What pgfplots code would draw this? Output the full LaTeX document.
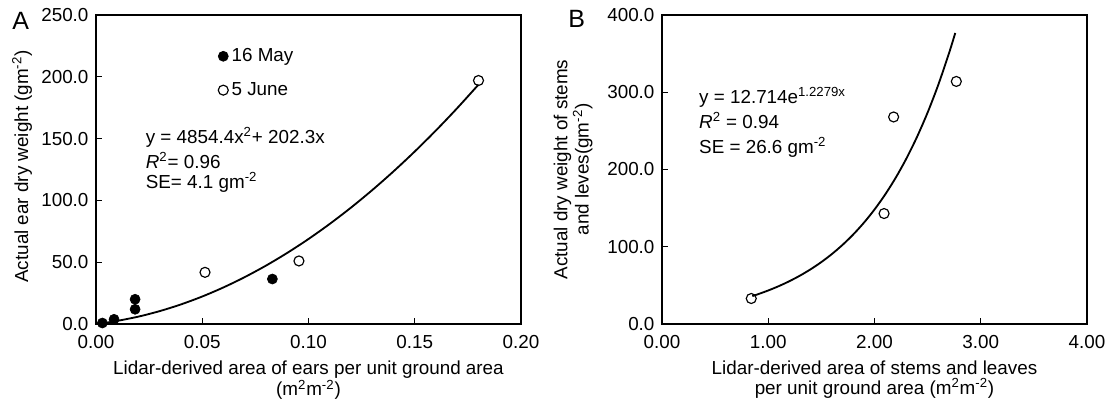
\documentclass[border=0pt]{standalone}
\usepackage{fontspec}
\setmainfont{Liberation Sans}
\usepackage{pgfplots}
\pgfplotsset{compat=1.18}
\begin{document}
\begin{tikzpicture}[font=\fontsize{11.3}{13.3}\selectfont]
\useasboundingbox (0,0) rectangle (666pt,240.6pt);
\pgfplotsset{
  myaxis/.style={
    scale only axis,
    width=255pt, height=185.4pt,
    axis line style={line width=1pt},
    tick align=inside,
    tick pos=left,
    major tick length=3.5pt,
    every tick/.style={line width=0.8pt, black},
    /pgf/number format/assume math mode=true,
    xticklabel style={yshift=-3pt},
    yticklabel style={xshift=-1pt},
    clip=false,
    every axis plot/.append style={line width=1.1pt},
  },
  filled/.style={only marks, mark=*, mark size=3pt, mark options={fill=black, draw=black, line width=0.4pt}},
  open/.style={only marks, mark=o, mark size=3pt, mark options={draw=black, fill=white, line width=0.7pt}},
}
% ---------------- Panel A ----------------
\begin{axis}[myaxis,
  at={(57.6pt,46.2pt)}, anchor=south west,
  xmin=0, xmax=0.2, ymin=0, ymax=250,
  xtick={0,0.05,0.10,0.15,0.20},
  ytick={0,50,100,150,200,250},
  xticklabel style={/pgf/number format/.cd, fixed, fixed zerofill, precision=2},
  yticklabel style={/pgf/number format/.cd, fixed, fixed zerofill, precision=1},
  xlabel={Lidar-derived area of ears per unit ground area\\(m\textsuperscript{2}m\textsuperscript{-2})},
  xlabel style={align=center, anchor=north, at={(axis description cs:0.5,-0.100)}, font=\fontsize{11.3}{11.8}\selectfont},
  ylabel={Actual ear dry weight (gm\textsuperscript{-2})},
  ylabel style={anchor=center, at={(axis description cs:-0.174,0.51)}},
  legend style={at={(axis description cs:0.283,0.909)}, anchor=north west, draw=none, fill=none, row sep=7pt, inner sep=1pt},
  legend cell align=left,
]
\addplot[filled] coordinates {(0.003,0.8) (0.0085,3.8) (0.0184,20) (0.0184,11.9) (0.083,36.4)};
\addlegendentry{16 May}
\addplot[open] coordinates {(0.0513,41.8) (0.0955,51) (0.180,197)};
\addlegendentry{5 June}
\addplot[black, line width=1.1pt, smooth, forget plot] coordinates {
(0.005,1.13) (0.01,2.51) (0.02,5.99) (0.03,10.44) (0.04,15.86) (0.05,22.25) (0.06,29.61)
(0.07,37.95) (0.08,47.25) (0.09,57.53) (0.10,68.77) (0.11,80.99) (0.12,94.18) (0.13,108.34)
(0.14,123.47) (0.15,139.57) (0.16,156.64) (0.17,174.68) (0.18,193.70)};
\node[anchor=base west, inner sep=0pt] at (axis cs:0.0233,146.4) {y = 4854.4x\textsuperscript{2}+ 202.3x};
\node[anchor=base west, inner sep=0pt] at (axis cs:0.0233,126.2) {\textit{R}\textsuperscript{2}= 0.96};
\node[anchor=base west, inner sep=0pt] at (axis cs:0.0233,110.0) {SE= 4.1 gm\textsuperscript{-2}};
\end{axis}
\node[anchor=base west, inner sep=0pt, font=\fontsize{15}{16}\selectfont] at (7.2pt,223pt) {A};
% ---------------- Panel B ----------------
\begin{axis}[myaxis,
  at={(397.2pt,46.2pt)}, anchor=south west,
  xmin=0, xmax=4, ymin=0, ymax=400,
  xtick={0,1,2,3,4},
  ytick={0,100,200,300,400},
  xticklabel style={/pgf/number format/.cd, fixed, fixed zerofill, precision=2},
  yticklabel style={/pgf/number format/.cd, fixed, fixed zerofill, precision=1},
  xlabel={Lidar-derived area of stems and leaves\\per unit ground area (m\textsuperscript{2}m\textsuperscript{-2})},
  xlabel style={align=center, anchor=north, at={(axis description cs:0.5,-0.100)}, font=\fontsize{11.3}{11.8}\selectfont},
  ylabel={Actual dry weight of stems\\and leves(gm\textsuperscript{-2})},
  ylabel style={align=center, anchor=center, at={(axis description cs:-0.209,0.5)}, font=\fontsize{11.3}{12.8}\selectfont},
]
\addplot[open] coordinates {(0.84,33) (2.09,143) (2.18,268) (2.77,314)};
\addplot[black, line width=1.1pt, smooth] coordinates {
(0.85,36.10) (0.9,38.39) (1.0,43.41) (1.1,49.08) (1.2,55.49) (1.3,62.74) (1.4,70.94)
(1.5,80.20) (1.6,90.68) (1.7,102.53) (1.8,115.92) (1.9,131.07) (2.0,148.21) (2.1,167.56)
(2.2,189.45) (2.3,214.20) (2.4,242.17) (2.5,273.80) (2.6,309.58) (2.7,350.01) (2.76,376.76)};
\node[anchor=base west, inner sep=0pt] at (axis cs:0.347,285.7) {y = 12.714e\textsuperscript{1.2279x}};
\node[anchor=base west, inner sep=0pt] at (axis cs:0.347,253.3) {\textit{R}\textsuperscript{2} = 0.94};
\node[anchor=base west, inner sep=0pt] at (axis cs:0.347,221) {SE = 26.6 gm\textsuperscript{-2}};
\end{axis}
\node[anchor=base west, inner sep=0pt, font=\fontsize{15}{16}\selectfont] at (340.8pt,223.8pt) {B};
\end{tikzpicture}
\end{document}
